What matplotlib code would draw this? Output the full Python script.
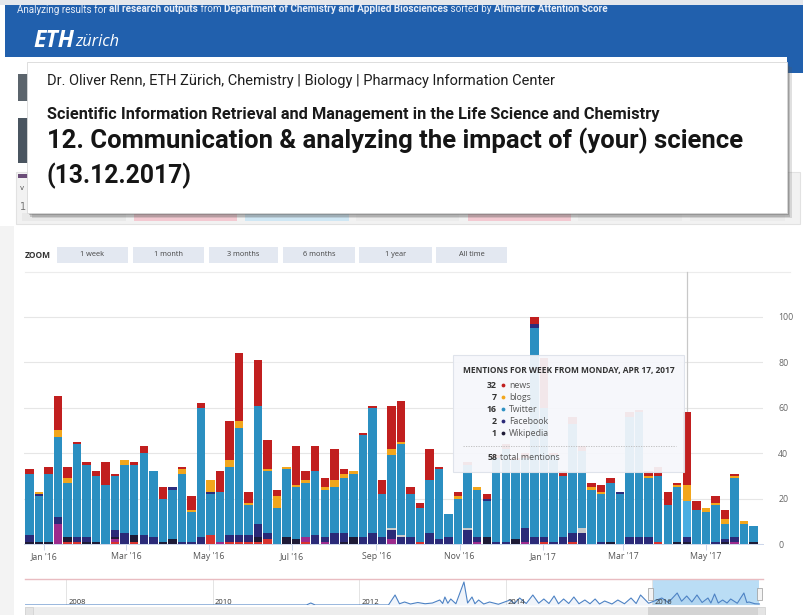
import matplotlib
matplotlib.use("Agg")
import matplotlib.pyplot as plt
import matplotlib.dates as mdates
from matplotlib import font_manager
from matplotlib.patches import Rectangle, Circle
import pandas as pd

W, H = 804, 615

# ---- weekly mentions (Dec 2015 - Jun 2017) ----
weeks = pd.date_range("2015-12-21", periods=77, freq="7D")

news = [2, 0, 3, 15, 5, 1, 1, 2, 10, 1, 0, 1, 3, 0, 5, 0, 1, 6, 2, 0,
        9, 17, 30, 5, 20, 13, 3, 0, 17, 4, 11, 4, 14, 2, 0, 1, 1, 6, 19, 18,
        3, 2, 14, 1, 0, 2, 1, 0, 2, 1, 2, 1, 2, 3, 22, 1, 2, 3, 2, 2,
        3, 2, 0, 2, 1, 2, 4, 6, 1, 32, 4, 0, 3, 4, 1, 0, 0]
blogs = [0, 1, 0, 3, 2, 0, 0, 0, 0, 0, 2, 0, 0, 0, 0, 0, 2, 1, 0, 5,
         0, 3, 3, 1, 0, 1, 5, 1, 1, 1, 0, 1, 3, 2, 1, 0, 0, 0, 3, 1,
         0, 0, 0, 0, 0, 1, 0, 1, 0, 0, 0, 0, 0, 0, 0, 0, 0, 0, 0, 1,
         1, 0, 0, 0, 0, 1, 0, 0, 1, 7, 0, 2, 1, 2, 1, 1, 0]
other_top = [0, 1, 0, 0, 0, 0, 0, 0, 0, 0, 0, 0, 0, 0, 0, 1, 0, 0, 0, 1,
             0, 0, 0, 0, 0, 0, 0, 0, 0, 0, 0, 0, 0, 0, 0, 0, 0, 0, 0, 0,
             0, 0, 0, 0, 0, 0, 0, 0, 1, 0, 0, 0, 0, 2, 0, 0, 0, 0, 0, 0,
             0, 0, 1, 0, 0, 0, 0, 0, 0, 0, 0, 0, 0, 0, 0, 0, 0]
twitter = [27, 20, 30, 35, 24, 41, 32, 29, 26, 24, 30, 31, 36, 29, 19, 22, 30, 13, 57, 18,
           22, 30, 47, 13, 52, 27, 16, 30, 23, 24, 28, 21, 20, 24, 28, 45, 55, 19, 32, 40,
           19, 15, 23, 31, 10, 20, 28, 21, 16, 37, 41, 35, 31, 92, 57, 38, 27, 48, 34, 24,
           21, 26, 22, 53, 55, 26, 29, 17, 24, 16, 15, 14, 16, 7, 26, 9, 7]
other_grey = [0] * 38 + [1, 1] + [0] * 6 + [1] + [0] * 11 + [2] + [0] * 18
facebook = [3, 0, 0, 3, 0, 2, 2, 0, 0, 3, 5, 0, 4, 3, 0, 0, 1, 1, 3, 0,
            0, 3, 3, 3, 6, 3, 0, 0, 0, 0, 4, 2, 5, 4, 0, 3, 5, 3, 4, 3,
            3, 0, 5, 2, 3, 0, 6, 2, 0, 1, 1, 0, 6, 3, 2, 1, 3, 4, 5, 0,
            1, 0, 0, 3, 3, 3, 0, 0, 0, 2, 0, 0, 1, 1, 2, 0, 0]
wikipedia = [1, 1, 1, 0, 2, 0, 1, 1, 0, 1, 0, 3, 0, 0, 1, 2, 0, 0, 0, 0,
             0, 0, 0, 0, 2, 0, 0, 3, 2, 0, 0, 0, 0, 1, 3, 0, 0, 0, 0, 0,
             0, 0, 0, 0, 0, 0, 0, 0, 3, 0, 0, 2, 0, 0, 0, 0, 0, 0, 0, 0,
             0, 1, 0, 0, 0, 0, 0, 0, 1, 1, 0, 0, 0, 1, 0, 0, 1]
googleplus = [0, 0, 0, 9, 0, 0, 0, 0, 0, 1, 0, 0, 0, 0, 0, 0, 0, 0, 0, 0,
              1, 0, 0, 0, 0, 0, 0, 0, 0, 2, 0, 1, 0, 0, 0, 0, 0, 0, 2, 0,
              0, 0, 0, 0, 0, 0, 0, 1, 0, 0, 0, 0, 1, 0, 0, 0, 0, 0, 0, 0,
              0, 0, 0, 0, 0, 0, 0, 0, 0, 0, 0, 0, 0, 0, 1, 0, 0]
policy = [0, 0, 0, 0, 1, 1, 0, 0, 0, 1, 0, 1, 0, 0, 0, 0, 0, 0, 0, 4,
          0, 1, 1, 1, 1, 2, 0, 0, 0, 1, 0, 0, 0, 0, 0, 0, 0, 0, 0, 0,
          0, 1, 0, 0, 0, 0, 0, 0, 0, 0, 0, 0, 0, 0, 1, 0, 0, 1, 0, 0,
          0, 0, 0, 0, 0, 0, 1, 0, 0, 0, 0, 0, 0, 0, 0, 0, 0]

# stacking order bottom -> top
stack = [
    ("policy", policy, "#d8322e"),
    ("Google+", googleplus, "#9c2a8c"),
    ("Wikipedia", wikipedia, "#1e1a36"),
    ("Facebook", facebook, "#2b2a78"),
    ("other", other_grey, "#c9c9c9"),
    ("Twitter", twitter, "#2b8fc1"),
    ("other2", other_top, "#2d2c7d"),
    ("blogs", blogs, "#f2a61c"),
    ("news", news, "#c11f1f"),
]
tip_week = 69
tip_series = [("news", news, "#c11f1f"), ("blogs", blogs, "#f2a61c"),
              ("Twitter", twitter, "#2e91c3"), ("Facebook", facebook, "#2b2a78"),
              ("Wikipedia", wikipedia, "#1e1a36")]

zoom_buttons = ["1 week", "1 month", "3 months", "6 months", "1 year", "All time"]
y_ticks = [0, 20, 40, 60, 80, 100]

# navigator overview (all years)
nav_years = [2007.44, 2011.28, 2011.34, 2011.40, 2012.40, 2012.49, 2012.55, 2012.62, 2012.70, 2012.80,
             2012.90, 2013.00, 2013.10, 2013.14, 2013.17, 2013.21, 2013.25, 2013.32, 2013.43, 2013.48,
             2013.54, 2013.58, 2013.63, 2013.70, 2013.78, 2013.90, 2014.06, 2014.12, 2014.19, 2014.28,
             2014.37, 2014.45, 2014.52, 2014.59, 2014.66, 2014.72, 2014.79, 2014.86, 2014.93, 2015.00,
             2015.08, 2015.15, 2015.22, 2015.28, 2015.35, 2015.45, 2015.53, 2015.62, 2015.71, 2015.78,
             2015.84, 2015.95, 2016.02, 2016.13, 2016.22, 2016.34, 2016.40, 2016.47, 2016.54, 2016.61,
             2016.68, 2016.76, 2016.80, 2016.85, 2016.90, 2016.96, 2017.02, 2017.07, 2017.16, 2017.25,
             2017.29, 2017.32, 2017.40, 2017.47]
nav_mentions = [0, 0, 16, 0, 0, 80, 10, 24, 8, 20,
                10, 16, 40, 12, 64, 14, 48, 10, 184, 16,
                64, 10, 40, 8, 24, 6, 40, 12, 56, 12,
                80, 14, 48, 12, 72, 10, 48, 12, 64, 10,
                40, 10, 48, 8, 32, 8, 40, 10, 56, 12,
                80, 14, 30, 56, 20, 96, 30, 72, 24, 80,
                20, 56, 16, 88, 16, 40, 16, 48, 14, 96,
                20, 24, 10, 8]
nav_labels = [2008, 2010, 2012, 2014, 2016]

# ---- fonts ----
names = {f.name for f in font_manager.fontManager.ttflist}
narrow = "Liberation Sans Narrow" if "Liberation Sans Narrow" in names else "Roboto"
ui = "Open Sans"

fig = plt.figure(figsize=(W / 100, H / 100), dpi=100)
fig.patch.set_facecolor("white")
rend = fig.canvas.get_renderer()

bg = fig.add_axes([0, 0, 1, 1], zorder=0)
bg.set_xlim(0, W)
bg.set_ylim(H, 0)
bg.axis("off")


def rect(ax, x0, y0, x1, y1, **kw):
    ax.add_patch(Rectangle((x0, y0), x1 - x0, y1 - y0, **kw))


def fit_text(ax, x, y, s, width, **kw):
    t = ax.text(x, y, s, fontsize=10, **kw)
    w = t.get_window_extent(renderer=rend).width
    t.set_fontsize(10 * width / w)
    return t


def text_runs(ax, x, y, parts, width, **kw):
    total = 0
    for s, wt in parts:
        t = ax.text(0, 0, s, fontsize=10, fontweight=wt, **kw)
        total += t.get_window_extent(renderer=rend).width
        t.remove()
    size = 10 * width / total
    for s, wt in parts:
        t = ax.text(x, y, s, fontsize=size, fontweight=wt, va="center", ha="left", **kw)
        x += t.get_window_extent(renderer=rend).width
    return x


# ---- page background pieces ----
rect(bg, 0, 0, W, 5, color="#e4e7ec", lw=0)
rect(bg, 5, 5, W, 57, color="#2160ad", lw=0)
rect(bg, 787, 57, W, 73, color="#2160ad", lw=0)
text_runs(bg, 17, 9.5, [("Analyzing results for ", "normal"), ("all research outputs", "bold"),
                        (" from ", "normal"), ("Department of Chemistry and Applied Biosciences", "bold"),
                        (" sorted by ", "normal"), ("Altmetric Attention Score", "bold")],
          590, color="#e8eef8", family=narrow)
xe = 33
t = fit_text(bg, xe, 41, "ETH", 41, color="white", fontweight="bold", fontstyle="italic",
             family=ui, va="center", ha="left")
xe += t.get_window_extent(renderer=rend).width + 1
fit_text(bg, xe, 41.5, "zürich", 44, color="white", fontstyle="italic", family=ui,
         va="center", ha="left")

# remnants of the web page behind the slide box
rect(bg, 16, 172, 800, 224, facecolor="#f2f2f2", edgecolor="#e2e2e2", lw=0.8)
for x0, x1, c in [(22, 126, "#e9e9e9"), (134, 237, "#f3c9d1"), (245, 349, "#cfe7f4"),
                  (356, 459, "#ececec"), (468, 571, "#f3c9d1"), (578, 682, "#ececec"),
                  (690, 785, "#ececec")]:
    rect(bg, x0, 213, x1, 221, color=c, lw=0)
rect(bg, 18, 74, 30, 101, color="#5b646c", lw=0)
rect(bg, 18, 118, 30, 163, color="#4a5560", lw=0)
rect(bg, 18, 174, 30, 178, color="#6b4d78", lw=0)
bg.text(20, 188, "v", fontsize=5, color="#555", va="center")
bg.text(20, 207, "1", fontsize=7, color="#777", va="center")
rect(bg, 0, 226, 14, H, color="#f3f3f3", lw=0)

# slide text box with shadow
for off, a in [(5, 0.18), (3.5, 0.25), (2, 0.3)]:
    rect(bg, 27 + off, 62 + off, 787 + off, 213 + off, color="#555555", alpha=a, lw=0)
rect(bg, 27, 62, 787, 213, facecolor="white", edgecolor="#d8d8d8", lw=0.6)
fit_text(bg, 47, 81, "Dr. Oliver Renn, ETH Zürich, Chemistry | Biology | Pharmacy Information Center",
         506, color="#1e1e1e", family=narrow, va="center", ha="left")
fit_text(bg, 47, 114, "Scientific Information Retrieval and Management in the Life Science and Chemistry",
         613, color="#1a1a1a", family=narrow, fontweight="bold", va="center", ha="left")
fit_text(bg, 47, 141, "12. Communication & analyzing the impact of (your) science",
         698, color="#151515", family=narrow, fontweight="bold", va="center", ha="left")
fit_text(bg, 47, 176, "(13.12.2017)", 145, color="#151515", family=narrow, fontweight="bold",
         va="center", ha="left")

# zoom buttons
fit_text(bg, 25, 255, "ZOOM", 26, fontweight="bold", color="#333", family=ui, va="center", ha="left")
bx = [(57, 128), (133, 204), (209, 278), (283, 355), (359, 432), (436, 507)]
for (x0, x1), lab in zip(bx, zoom_buttons):
    rect(bg, x0, 247, x1, 263, color="#e3e8f1", lw=0)
    bg.text((x0 + x1) / 2, 255, lab, fontsize=5.3, color="#444", family=ui, ha="center", va="center")
bg.plot([25, 790], [272, 272], color="#ececec", lw=0.8)

# ---- main stacked bar chart ----
y0_px, per_unit = 544, 2.27
ymax = 112
ax = fig.add_axes([24 / W, 1 - y0_px / H, 739 / W, ymax * per_unit / H], zorder=2)
ax.patch.set_alpha(0)
base = [0] * len(weeks)
for name, vals, col in stack:
    cols = [col] * len(weeks)
    if name == "Twitter":
        cols[tip_week] = "#4aaee2"
    ax.bar(weeks, vals, width=6.2, bottom=base, color=cols, linewidth=0, zorder=2)
    base = [b + v for b, v in zip(base, vals)]

ax.set_xlim(pd.Timestamp("2015-12-17"), pd.Timestamp("2017-06-12"))
ax.set_ylim(0, ymax)
ax.plot([weeks[tip_week]] * 2, [0, 120], color="#c8c8c8", lw=0.9, clip_on=False, zorder=1)
ax.set_yticks(y_ticks)
ax.yaxis.tick_right()
ax.tick_params(axis="y", length=0, pad=11, labelsize=6.3, labelcolor="#666")
ax.grid(axis="y", color="#e6e6e6", lw=0.8, zorder=0)
ax.set_axisbelow(True)
ax.xaxis.set_major_locator(mdates.MonthLocator(bymonth=[1, 3, 5, 7, 9, 11]))
ax.xaxis.set_major_formatter(mdates.DateFormatter("%b '%y"))
ax.tick_params(axis="x", length=4, width=0.7, color="#ccd6eb", pad=2, labelsize=6.3, labelcolor="#555")
for lab in ax.get_xticklabels() + ax.get_yticklabels():
    lab.set_family(ui)
for s in ["top", "right", "left"]:
    ax.spines[s].set_visible(False)
ax.spines["bottom"].set_color("#ccd6eb")
ax.spines["bottom"].set_linewidth(0.7)

# ---- navigator ----
nav = fig.add_axes([25 / W, 1 - 605 / H, 735 / W, 26 / H], zorder=2)
nav.set_xlim(2007.44, 2017.47)
nav.set_ylim(0, 208)
nav.axvspan(2016.0, 2017.46, color="#a9d5f3", alpha=0.8, lw=0, zorder=0)
for yr in nav_labels:
    nav.axvline(yr, color="#e4e4e4", lw=0.7, zorder=0)
    nav.text(yr + 0.03, 22, str(yr), fontsize=5.5, color="#333", family=ui, va="center", ha="left")
nav.fill_between(nav_years, nav_mentions, color="#4a7fc1", alpha=0.08, lw=0)
nav.plot(nav_years, nav_mentions, color="#4d82c4", lw=0.8)
nav.axis("off")

ov = fig.add_axes([0, 0, 1, 1], zorder=5)
ov.set_xlim(0, W)
ov.set_ylim(H, 0)
ov.axis("off")
ov.patch.set_alpha(0)

ov.plot([25, 763], [579, 579], color="#e9bcc1", lw=1.0)
for hx in [648, 757]:
    rect(ov, hx, 588, hx + 5, 600, facecolor="#f4f4f4", edgecolor="#999", lw=0.5)
rect(ov, 25, 607, 765, 615, color="#ededed", lw=0)
rect(ov, 648, 607, 760, 615, color="#d3d3d3", lw=0)
rect(ov, 25, 607, 33, 615, facecolor="#e4e4e4", edgecolor="#cfcfcf", lw=0.5)
rect(ov, 757, 607, 765, 615, facecolor="#e4e4e4", edgecolor="#cfcfcf", lw=0.5)

# ---- tooltip ----
rect(ov, 453, 355, 684, 472, facecolor="#f6f7fb", edgecolor="#dde2ea", lw=0.8, alpha=0.93)
fit_text(ov, 463, 371, "MENTIONS FOR WEEK FROM MONDAY, APR 17, 2017", 212, color="#333",
         fontweight="bold", family=ui, va="center", ha="left")
total = 0
for i, (lab, vals, col) in enumerate(tip_series):
    yy = 385 + i * 12
    v = vals[tip_week]
    total += v
    ov.text(497, yy, str(v), fontsize=6.3, fontweight="bold", color="#333", family=ui,
            ha="right", va="center")
    ov.add_patch(Circle((503.5, yy + 0.5), 1.9, color=col, lw=0))
    ov.text(509, yy, lab, fontsize=6.3, color="#555", family=ui, ha="left", va="center")
ov.plot([463, 676], [446, 446], color="#b9b9b9", lw=0.6, ls=(0, (1.5, 1.5)))
ov.text(497, 457, str(total), fontsize=6.3, fontweight="bold", color="#333", family=ui,
        ha="right", va="center")
ov.text(500, 457, "total mentions", fontsize=6.3, color="#555", family=ui, ha="left", va="center")

fig.savefig("out.png", dpi=100)
